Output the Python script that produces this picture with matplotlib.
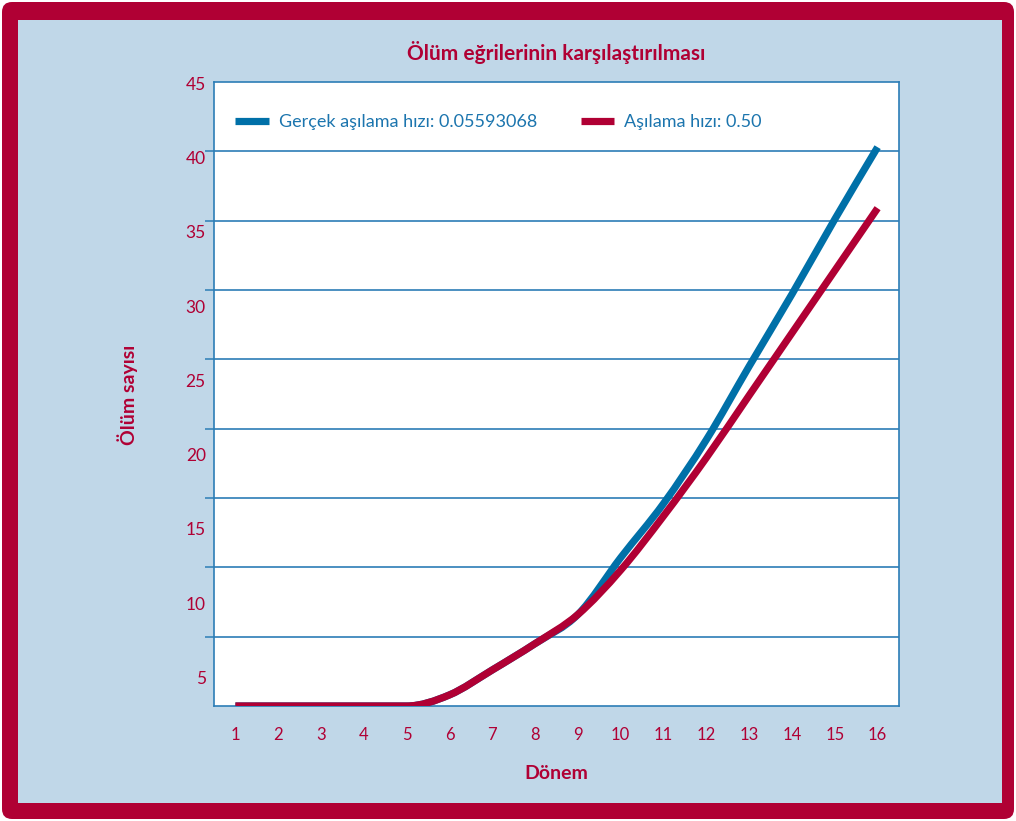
import matplotlib
matplotlib.use("Agg")
import matplotlib.pyplot as plt
import numpy as np
from matplotlib.patches import FancyBboxPatch, Rectangle, PathPatch
from matplotlib.path import Path
from matplotlib.lines import Line2D

plt.rcParams['font.family'] = ['Lato', 'DejaVu Sans']

# Data
periods = list(range(1, 17))
deaths_actual = [0, 0, 0, 0, 0, 0.8, 2.6, 4.5, 6.6, 10.7, 14.6, 19.2, 24.5, 29.7, 35.1, 40.3]
deaths_050 = [0, 0, 0, 0, 0, 0.8, 2.6, 4.5, 6.6, 9.8, 13.7, 17.9, 22.4, 26.9, 31.4, 35.9]
label_actual = "Gerçek aşılama hızı: 0.05593068"
label_050 = "Aşılama hızı: 0.50"
y_tick_values = [5, 10, 15, 20, 25, 30, 35, 40, 45]
title = "Ölüm eğrilerinin karşılaştırılması"
xlabel = "Dönem"
ylabel = "Ölüm sayısı"

CRIMSON = "#B00034"
BLUE = "#0070A8"
GRID = "#2C7DB6"
PANEL = "#C0D7E8"
TEXT_BLUE = "#1C75AE"


def smooth_path(xs, ys):
    """Cardinal cubic curve through the points (flat where a segment is flat)."""
    x = np.asarray(xs, float)
    y = np.asarray(ys, float)
    h = np.diff(x)
    d = np.diff(y) / h
    m = np.zeros_like(y)
    m[0], m[-1] = d[0], d[-1]
    for i in range(1, len(y) - 1):
        if d[i - 1] * d[i] <= 0:
            m[i] = 0.0
        else:
            m[i] = 0.5 * (d[i - 1] + d[i])
    verts = [(x[0], y[0])]
    codes = [Path.MOVETO]
    for i in range(len(x) - 1):
        verts += [(x[i] + h[i] / 3, y[i] + m[i] * h[i] / 3),
                  (x[i + 1] - h[i] / 3, y[i + 1] - m[i + 1] * h[i] / 3),
                  (x[i + 1], y[i + 1])]
        codes += [Path.CURVE4] * 3
    return Path(verts, codes)


W, H = 1016, 821
fig = plt.figure(figsize=(W / 100, H / 100), dpi=100, facecolor="white")

# Frame: crimson rounded border with light blue panel, in pixel units
bg = fig.add_axes([0, 0, 1, 1])
bg.set_xlim(0, W)
bg.set_ylim(0, H)
bg.axis("off")
bg.add_patch(FancyBboxPatch((2, 2), W - 4, H - 4,
                            boxstyle="round,pad=0,rounding_size=10",
                            facecolor=CRIMSON, edgecolor="none"))
bg.add_patch(Rectangle((18, H - 803), 1002 - 18, 803 - 20,
                       facecolor=PANEL, edgecolor="none"))

# Plot area
left, right, top, bottom = 214, 899, 82, 706
ax = fig.add_axes([left / W, (H - bottom) / H, (right - left) / W, (bottom - top) / H])
ax.set_facecolor("white")
ax.set_xlim(0.5, 16.5)
ax.set_ylim(0, 45)

for s in ax.spines.values():
    s.set_color(GRID)
    s.set_linewidth(1.2)

ax.set_yticks([5, 10, 15, 20, 25, 30, 35, 40])
ax.yaxis.grid(True, color=GRID, linewidth=1.2)
ax.tick_params(axis="y", length=6.5, width=1.1, color=GRID, labelleft=False, direction="out")
ax.set_xticks(periods)
ax.set_xticklabels([str(p) for p in periods])
ax.tick_params(axis="x", length=0, pad=15, labelcolor=CRIMSON, labelsize=12)

# y labels sit on their own, slightly wider spacing than the grid
for v in y_tick_values:
    pos = 44.8 - (45 - v) * 1.071
    ax.text(-0.012, pos, str(v), transform=ax.get_yaxis_transform(),
            ha="right", va="center", color=CRIMSON, fontsize=12.5)

# Curves
for ys, col, z in [(deaths_actual, BLUE, 3), (deaths_050, CRIMSON, 4)]:
    ax.add_patch(PathPatch(smooth_path(periods, ys), facecolor="none", edgecolor=col,
                           lw=5.2, capstyle="butt", joinstyle="round", zorder=z))

handles = [Line2D([], [], color=BLUE, lw=5.2, solid_capstyle="butt", label=label_actual),
           Line2D([], [], color=CRIMSON, lw=5.2, solid_capstyle="butt", label=label_050)]
leg = ax.legend(handles=handles, loc="center left",
                bbox_to_anchor=(0.031, 0.936), ncol=2, frameon=False,
                fontsize=13, handlelength=1.85, handletextpad=0.55,
                columnspacing=2.45, borderpad=0, borderaxespad=0)
for t in leg.get_texts():
    t.set_color(TEXT_BLUE)

fig.text((left + right) / 2 / W, 1 - 52 / H, title, ha="center", va="center",
         color=CRIMSON, fontsize=15, fontweight="bold")
fig.text((left + right) / 2 / W, 1 - 773 / H, xlabel, ha="center", va="center",
         color=CRIMSON, fontsize=14, fontweight="bold")
fig.text(128 / W, 1 - 395 / H, ylabel, ha="center", va="center", rotation=90,
         color=CRIMSON, fontsize=14, fontweight="bold")

fig.savefig("out.png", dpi=100, facecolor="white")
